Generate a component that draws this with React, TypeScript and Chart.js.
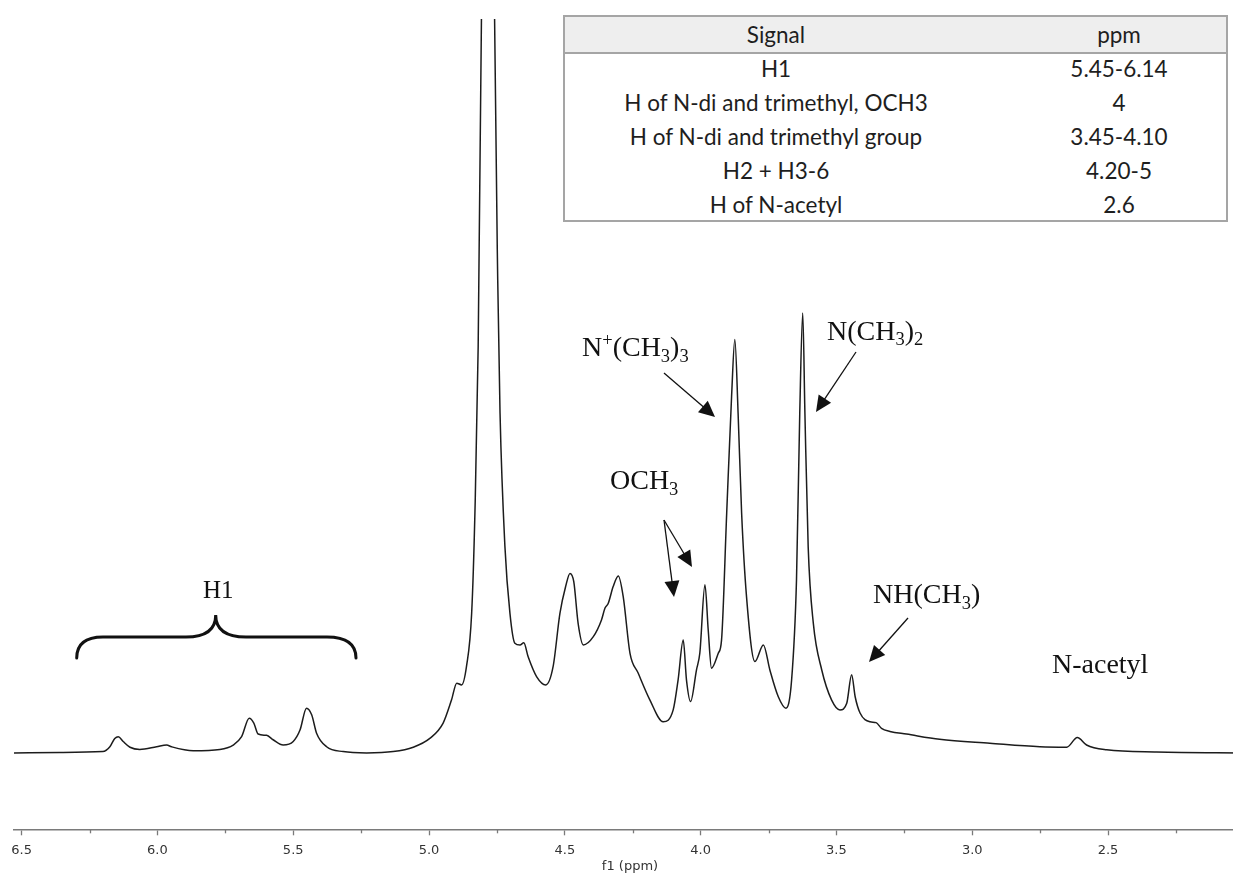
import React, { useEffect, useRef } from "react";
import { Chart, registerables } from "chart.js";

Chart.register(...registerables);

// ---- Spectrum data (chemical shift in ppm, relative intensity; N(CH3)2 peak ~ 100) ----
const shiftPpm: number[] = [
  6.528, 6.359, 6.201, 6.175, 6.157, 6.144, 6.126, 6.101, 6.065, 6.003,
  5.966, 5.948, 5.868, 5.770, 5.721, 5.690, 5.662, 5.645, 5.629, 5.598,
  5.574, 5.537, 5.500, 5.475, 5.451, 5.432, 5.414, 5.377, 5.316, 5.230,
  5.132, 5.058, 4.997, 4.948, 4.917, 4.898, 4.880, 4.862, 4.843, 4.831,
  4.819, 4.807, 4.785, 4.7585, 4.747, 4.7385, 4.7205, 4.702, 4.684, 4.665,
  4.651, 4.635, 4.604, 4.570, 4.543, 4.518, 4.497, 4.481, 4.467, 4.451,
  4.432, 4.395, 4.365, 4.352, 4.340, 4.322, 4.303, 4.285, 4.260, 4.230,
  4.187, 4.138, 4.101, 4.083, 4.064, 4.052, 4.037, 4.015, 4.003, 3.984,
  3.972, 3.960, 3.935, 3.923, 3.904, 3.886, 3.874, 3.862, 3.849, 3.831,
  3.800, 3.769, 3.745, 3.714, 3.686, 3.665, 3.647, 3.635, 3.624, 3.616,
  3.604, 3.585, 3.554, 3.518, 3.487, 3.462, 3.444, 3.431, 3.413, 3.376,
  3.354, 3.334, 3.303, 3.242, 3.120, 2.935, 2.751, 2.652, 2.613, 2.579,
  2.505, 2.321, 1.992,
];

const intensity: number[] = [
  0, 0.1, 0.3, 1.4, 3.3, 3.7, 2.6, 1.3, 0.8, 1.4,
  1.8, 1.4, 0.5, 0.8, 1.8, 3.7, 7.9, 6.8, 4.3, 4.0,
  3.0, 1.8, 2.6, 5.2, 10.2, 8.7, 4.5, 1.4, 0.3, 0,
  0.3, 1.3, 3.3, 6.8, 12.1, 15.9, 15.5, 19.7, 31.8, 54.6,
  92.6, 167, 420, 167, 107.7, 77.4, 47.0, 31.8, 25.0, 24.6,
  25.1, 21.9, 17.4, 15.5, 19.7, 31.8, 37.9, 40.9, 39.0, 29.5,
  24.6, 26.5, 30.3, 33.0, 34.1, 37.9, 40.3, 35.6, 22.7, 18.2,
  12.1, 7.1, 9.8, 16.6, 25.7, 16.6, 11.7, 19.0, 22.7, 38.3,
  28.0, 19.3, 22.7, 25.7, 54.6, 81.2, 94.2, 77.4, 54.6, 35.6,
  20.8, 24.6, 18.9, 12.8, 10.2, 16.6, 39.4, 77.4, 100.2, 77.4,
  47.0, 29.5, 18.9, 12.1, 9.8, 11.3, 17.8, 12.8, 9.1, 7.1,
  6.9, 5.6, 4.9, 4.3, 3.1, 2.2, 1.4, 1.3, 3.5, 1.8,
  0.7, 0.2, 0,
];

const majorTicks: number[] = [6.5, 6.0, 5.5, 5.0, 4.5, 4.0, 3.5, 3.0, 2.5];
const minorTicks: number[] = [6.25, 5.75, 5.25, 4.75, 4.25, 3.75, 3.25, 2.75, 2.25];

const xMin = 1.992;
const xMax = 6.528;
const yMin = -17.4;
const yMax = 167.2;

// ---- Table contents ----
const tableHeader: string[] = ["Signal", "ppm"];
const signalNames: string[] = [
  "H1",
  "H of N-di and trimethyl, OCH3",
  "H of N-di and trimethyl group",
  "H2 + H3-6",
  "H of N-acetyl",
];
const signalPpm: string[] = ["5.45-6.14", "4", "3.45-4.10", "4.20-5", "2.6"];

// ---- Annotations (canvas pixel positions) ----
type Part = { t: string; m?: "sub" | "sup" };
type Label = { parts: Part[]; x: number; y: number; size: number };

const annotationLabels: Label[] = [
  { parts: [{ t: "H1" }], x: 203, y: 598, size: 25 },
  {
    parts: [{ t: "N" }, { t: "+", m: "sup" }, { t: "(CH" }, { t: "3", m: "sub" }, { t: ")" }, { t: "3", m: "sub" }],
    x: 582, y: 356, size: 28,
  },
  {
    parts: [{ t: "N(CH" }, { t: "3", m: "sub" }, { t: ")" }, { t: "2", m: "sub" }],
    x: 827, y: 339.5, size: 28,
  },
  { parts: [{ t: "OCH" }, { t: "3", m: "sub" }], x: 610, y: 489, size: 28 },
  { parts: [{ t: "NH(CH" }, { t: "3", m: "sub" }, { t: ")" }], x: 873, y: 603, size: 28 },
  { parts: [{ t: "N-acetyl" }], x: 1052, y: 673, size: 28 },
];

const annotationArrows: [number, number, number, number][] = [
  [664, 373, 715, 417],
  [856, 352, 816, 412],
  [664, 520, 674, 597],
  [664, 520, 692, 567],
  [908, 618, 869, 662],
];

function drawRich(ctx: CanvasRenderingContext2D, lab: Label) {
  let cx = lab.x;
  for (const p of lab.parts) {
    const small = p.m === "sub" || p.m === "sup";
    const fs = small ? lab.size * 0.66 : lab.size;
    ctx.font = `${fs}px "Liberation Serif", "Times New Roman", serif`;
    const dy = p.m === "sub" ? lab.size * 0.2 : p.m === "sup" ? -lab.size * 0.36 : 0;
    ctx.fillText(p.t, cx, lab.y + dy);
    cx += ctx.measureText(p.t).width;
  }
}

function drawArrow(ctx: CanvasRenderingContext2D, x1: number, y1: number, x2: number, y2: number) {
  const ang = Math.atan2(y2 - y1, x2 - x1);
  const hl = 16;
  const hw = 7.5;
  const c = Math.cos(ang);
  const s = Math.sin(ang);
  const bx = x2 - hl * c;
  const by = y2 - hl * s;
  ctx.beginPath();
  ctx.moveTo(x1, y1);
  ctx.lineTo(bx + 2 * c, by + 2 * s);
  ctx.stroke();
  ctx.beginPath();
  ctx.moveTo(x2, y2);
  ctx.lineTo(bx - hw * s, by + hw * c);
  ctx.lineTo(bx + hw * s, by - hw * c);
  ctx.closePath();
  ctx.fill();
}

const annotationPlugin = {
  id: "nmrAnnotations",
  afterDraw(chart: any) {
    const ctx: CanvasRenderingContext2D = chart.ctx;
    const xs = chart.scales.x;
    const area = chart.chartArea;
    ctx.save();
    // minor ticks
    ctx.strokeStyle = "#7a7a7a";
    ctx.lineWidth = 1.3;
    for (const v of minorTicks) {
      const px = Math.round(xs.getPixelForValue(v)) + 0.5;
      ctx.beginPath();
      ctx.moveTo(px, area.bottom);
      ctx.lineTo(px, area.bottom + 4);
      ctx.stroke();
    }
    // labels
    ctx.fillStyle = "#111";
    ctx.textBaseline = "alphabetic";
    ctx.textAlign = "left";
    for (const lab of annotationLabels) drawRich(ctx, lab);
    // arrows
    ctx.strokeStyle = "#111";
    ctx.lineWidth = 1.3;
    for (const a of annotationArrows) drawArrow(ctx, a[0], a[1], a[2], a[3]);
    // brace under H1
    ctx.lineWidth = 3;
    ctx.lineCap = "round";
    ctx.beginPath();
    ctx.moveTo(76.7, 658);
    ctx.quadraticCurveTo(76.7, 637, 103, 637);
    ctx.lineTo(186, 637);
    ctx.quadraticCurveTo(215.7, 637, 215.7, 615);
    ctx.quadraticCurveTo(215.7, 637, 246, 637);
    ctx.lineTo(327, 637);
    ctx.quadraticCurveTo(356, 637, 356, 658);
    ctx.stroke();
    ctx.restore();
  },
};

function SignalTable() {
  const rowH = 34;
  const bodyTop = 35;
  const col1: React.CSSProperties = { position: "absolute", left: 0, width: 422, textAlign: "center", height: rowH, lineHeight: `${rowH}px`, whiteSpace: "nowrap" };
  const col2: React.CSSProperties = { position: "absolute", left: 454, width: 200, textAlign: "center", height: rowH, lineHeight: `${rowH}px`, whiteSpace: "nowrap" };
  return (
    <div
      style={{
        position: "absolute",
        left: 563,
        top: 15,
        width: 665,
        height: 207,
        boxSizing: "border-box",
        border: "2px solid #a5a5a5",
        background: "#fff",
        fontFamily: 'Lato, "Open Sans", sans-serif',
        fontSize: 22.5,
        color: "#1e1e1e",
      }}
    >
      <div style={{ position: "absolute", left: 0, top: 0, right: 0, height: 34.7, background: "#eeeeee", borderBottom: "2px solid #a5a5a5" }} />
      <div style={{ ...col1, top: 0.5 }}>{tableHeader[0]}</div>
      <div style={{ ...col2, top: 0.5 }}>{tableHeader[1]}</div>
      {signalNames.map((n, i) => (
        <React.Fragment key={n}>
          <div style={{ ...col1, top: bodyTop + i * rowH }}>{n}</div>
          <div style={{ ...col2, top: bodyTop + i * rowH }}>{signalPpm[i]}</div>
        </React.Fragment>
      ))}
    </div>
  );
}

export default function App() {
  const ref = useRef<HTMLCanvasElement | null>(null);

  useEffect(() => {
    const canvas = ref.current;
    if (!canvas) return;
    const points = shiftPpm.map((x, i) => ({ x, y: intensity[i] }));
    const chart = new Chart(canvas, {
      type: "line",
      data: {
        datasets: [
          {
            data: points,
            borderColor: "#1c1c1c",
            borderWidth: 1.5,
            pointRadius: 0,
            fill: false,
            cubicInterpolationMode: "monotone",
          },
        ],
      },
      options: {
        animation: false,
        responsive: false,
        events: [],
        layout: { padding: { left: 14, right: 0, top: 19, bottom: 0 } },
        plugins: { legend: { display: false }, tooltip: { enabled: false } },
        scales: {
          x: {
            type: "linear",
            reverse: true,
            min: xMin,
            max: xMax,
            afterBuildTicks: (s: any) => {
              s.ticks = majorTicks.map((v) => ({ value: v }));
            },
            afterFit: (s: any) => {
              s.height = 44.7;
            },
            grid: {
              display: true,
              drawOnChartArea: false,
              drawTicks: true,
              tickLength: 6,
              color: "#7a7a7a",
              tickColor: "#7a7a7a",
              tickWidth: 1.3,
            },
            border: { display: true, color: "#7a7a7a", width: 1.5 },
            ticks: {
              autoSkip: false,
              maxRotation: 0,
              padding: 7.5,
              color: "#333",
              font: { family: '"DejaVu Sans", Verdana, sans-serif', size: 13 },
              callback: (v: any) => Number(v).toFixed(1),
            },
            title: {
              display: true,
              text: "f1 (ppm)",
              color: "#333",
              font: { family: '"DejaVu Sans", Verdana, sans-serif', size: 13 },
              padding: { top: 0, bottom: 0 },
            },
          },
          y: { display: false, min: yMin, max: yMax },
        },
      },
      plugins: [annotationPlugin],
    } as any);
    return () => chart.destroy();
  }, []);

  return (
    <div style={{ position: "fixed", left: 0, top: 0, width: 1233, height: 874, overflow: "hidden", background: "#fff" }}>
      <canvas ref={ref} width={1246} height={874} style={{ display: "block", width: 1246, height: 874 }} />
      <SignalTable />
    </div>
  );
}
